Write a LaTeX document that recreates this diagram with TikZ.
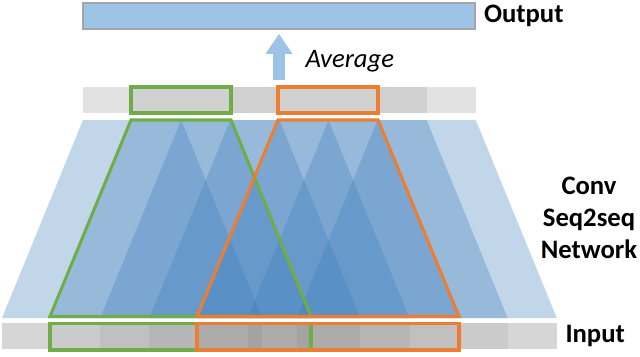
\documentclass[tikz,border=0pt]{standalone}
\usepackage{fontspec}
\setmainfont{Carlito}
\usetikzlibrary{positioning,arrows.meta}
\definecolor{bleucouche}{RGB}{58,123,187}
\definecolor{bleuclair}{RGB}{157,195,230}
\definecolor{grisbord}{RGB}{166,166,166}
\definecolor{grisbande}{RGB}{226,226,226}
\definecolor{vertcadre}{RGB}{112,173,71}
\definecolor{orangecadre}{RGB}{237,125,49}
\begin{document}
\begin{tikzpicture}[x=0.75pt,y=-0.75pt]
			% Styles (A AJUSTER)
			\tikzstyle{couche}=[fill=bleucouche,fill opacity=0.31]
			\tikzstyle{ombre}=[fill=black,fill opacity=0.05]
			\tikzstyle{bande}=[inner sep=0pt,minimum height=19.5pt,fill=grisbande]
			\tikzstyle{boite}=[inner sep=0pt,minimum height=19.5pt,fill=bleuclair,draw=grisbord,line width=1.2pt,minimum width=294pt]
			\tikzstyle{cadrevert}=[draw=vertcadre,line width=2.3pt]
			\tikzstyle{cadreorange}=[draw=orangecadre,line width=2.3pt]
			\tikzstyle{fleche}=[-{Triangle[width=19pt,length=15pt]},line width=9pt,draw=bleuclair]
			\tikzstyle{titre}=[inner sep=0pt,font=\bfseries\fontsize{20}{24}\selectfont]
			\tikzstyle{etiquette}=[inner sep=0pt,font=\itshape\fontsize{20}{24}\selectfont]
			% Dimensions en pixels (A AJUSTER)
			\def\Gauche{83}
			\def\Cellule{49.1}
			\def\Evase{81}
			\def\Haut{120}
			\def\Bas{318}
			\useasboundingbox (0,0) rectangle (640,357);
			% Bandes grises
			\node[bande,minimum width=294.75pt] (rangee) at (279.5,100) {};
			\fill[black!18] (132,87) rectangle (427,113);
			\node[bande,minimum width=416.25pt] (entree) at (279.5,336) {};
			\foreach \i in {0,...,6}{
				\fill[ombre] ({\Gauche+\i*\Cellule-\Evase},323) rectangle ({\Gauche+(\i+2)*\Cellule+\Evase},349);
			}
			% Couches du reseau (une par fenetre de deux cases)
			\foreach \i in {0,...,6}{
				\fill[couche] ({\Gauche+\i*\Cellule},\Haut) -- ({\Gauche+(\i+2)*\Cellule},\Haut)
					-- ({\Gauche+(\i+2)*\Cellule+\Evase},\Bas) -- ({\Gauche+\i*\Cellule-\Evase},\Bas) -- cycle;
			}
			% Sortie
			\node[boite] (sortie) at (279,16) {};
			\coordinate (axe) at (279,0);
			% Cadres
			\draw[cadrevert] (131,87) rectangle (231,113);
			\draw[cadrevert] (131,\Haut) -- (231,\Haut) -- (311,316.5) -- (50,316.5) -- cycle;
			\draw[cadrevert] (50,323.5) rectangle (311,350);
			\draw[cadreorange] (278,87) rectangle (378,113);
			\draw[cadreorange] (278,\Haut) -- (378,\Haut) -- (459,316.5) -- (197,316.5) -- cycle;
			\draw[cadreorange] (197,323.5) rectangle (459,350);
			% Textes
			\node[titre,right=6pt of sortie] (tsortie) {Output};
			\node[titre,right=6pt of entree] (tentree) {Input};
			\node[titre,align=center] (reseau) at (589,218) {Conv\\Seq2seq\\Network};
			% Fleche
			\draw[fleche,shorten <=5.25pt,shorten >=3pt] (rangee.north -| axe) -- (sortie.south -| axe)
				node[etiquette,midway,anchor=west,xshift=15.5pt,yshift=-2pt] (moyenne) {Average};
\end{tikzpicture}
\end{document}
